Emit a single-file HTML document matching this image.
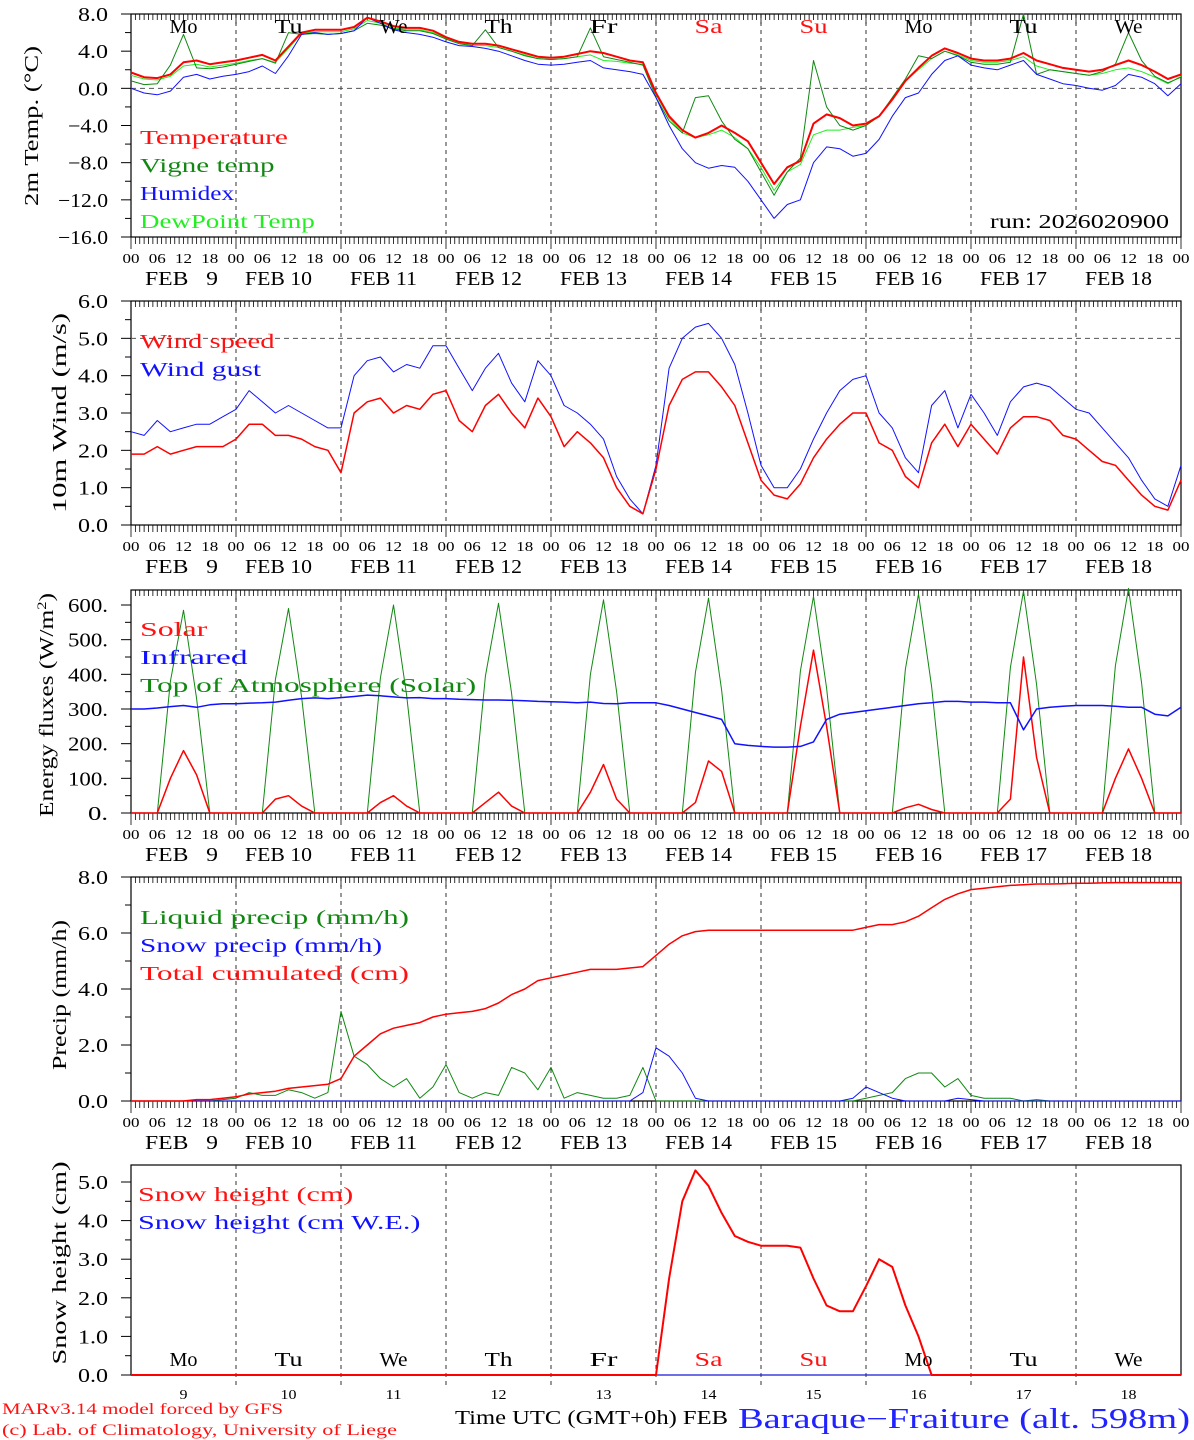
<!DOCTYPE html>
<html><head><meta charset="utf-8"><style>
html,body{margin:0;padding:0;background:#fff}
svg{display:block}
text{font-family:"Liberation Serif",serif;white-space:pre}
</style></head><body>
<svg id="chart" width="1194" height="1440" viewBox="0 0 1194 1440" xmlns="http://www.w3.org/2000/svg"></svg>
<script>
// ---- data (3-hourly, from Feb 9 00 UTC to Feb 19 00 UTC) ----
const dayNames=["Mo","Tu","We","Th","Fr","Sa","Su","Mo","Tu","We"];
const dayNums=["9","10","11","12","13","14","15","16","17","18"];
const hourLabels=["00","06","12","18"];
const tempVals=[1.7,1.2,1.1,1.5,2.8,3.0,2.6,2.8, 3.0,3.3,3.6,3.0,4.5,6.0,6.3,6.3, 6.3,6.6,7.6,7.2,6.7,6.5,6.5,6.2, 5.5,5.0,4.8,4.8,4.6,4.2,3.8,3.4, 3.3,3.4,3.7,4.0,3.8,3.4,3.0,2.8, -0.5,-3.0,-4.5,-5.3,-4.8,-4.0,-4.8,-5.7, -8.0,-10.3,-8.5,-7.8,-3.8,-2.8,-3.2,-4.0, -3.8,-3.0,-1.2,0.8,2.2,3.5,4.3,3.8, 3.2,3.0,3.0,3.2,3.8,3.0,2.6,2.2, 2.0,1.8,2.0,2.5,3.0,2.5,1.8,1.0, 1.5];
const vigneVals=[0.8,0.4,0.5,2.5,5.8,2.2,2.1,2.3, 2.6,2.9,3.2,2.7,6.0,5.8,5.9,5.8, 5.9,6.2,7.0,6.8,6.4,6.2,6.2,5.9, 5.3,4.8,4.6,6.3,4.4,4.0,3.5,3.2, 3.1,3.2,3.4,6.5,3.4,3.1,2.8,2.5, -1.0,-3.5,-4.8,-1.0,-0.8,-3.5,-5.5,-6.5, -9.0,-11.5,-9.0,-7.5,3.0,-2.0,-4.0,-4.5, -4.0,-3.0,-1.0,1.0,3.5,3.2,4.0,3.5, 2.8,2.6,2.6,2.8,8.0,1.5,2.0,1.8, 1.6,1.4,1.8,2.6,6.0,3.0,1.3,0.6, 1.2];
const humidexVals=[0.0,-0.5,-0.7,-0.3,1.2,1.5,1.0,1.3, 1.5,1.8,2.4,1.6,3.5,5.8,6.0,5.8, 5.9,6.2,7.6,7.0,6.3,6.0,5.8,5.5, 5.0,4.6,4.5,4.3,4.0,3.5,3.0,2.6, 2.5,2.6,2.8,3.0,2.2,2.0,1.8,1.5, -1.0,-4.0,-6.5,-8.0,-8.6,-8.3,-8.5,-10.0, -12.0,-14.0,-12.5,-12.0,-8.0,-6.3,-6.5,-7.3, -7.0,-5.5,-3.0,-1.0,-0.5,1.5,3.0,3.5, 2.5,2.2,2.0,2.5,3.0,1.5,1.0,0.5, 0.3,0.0,-0.2,0.3,1.5,1.2,0.5,-0.8, 0.5];
const dewVals=[1.4,1.0,0.9,1.3,2.4,2.6,2.3,2.5, 2.7,3.0,3.2,2.8,4.3,5.9,6.1,6.1, 6.1,6.4,7.3,7.0,6.5,6.3,6.3,6.0, 5.4,4.9,4.6,4.6,4.4,4.0,3.6,3.2, 3.1,3.2,3.4,3.6,3.0,2.9,2.7,2.6, -0.7,-3.2,-4.8,-5.3,-5.0,-4.5,-5.3,-6.5, -8.5,-11.0,-9.0,-8.2,-5.0,-4.5,-4.5,-4.2, -4.0,-3.0,-1.2,0.8,2.0,3.2,4.0,3.6, 3.0,2.8,2.8,3.0,3.4,2.4,2.0,1.8, 1.6,1.4,1.6,2.0,2.2,1.8,1.2,0.5, 1.3];
const windVals=[1.9,1.9,2.1,1.9,2.0,2.1,2.1,2.1, 2.3,2.7,2.7,2.4,2.4,2.3,2.1,2.0, 1.4,3.0,3.3,3.4,3.0,3.2,3.1,3.5, 3.6,2.8,2.5,3.2,3.5,3.0,2.6,3.4, 2.9,2.1,2.5,2.2,1.8,1.0,0.5,0.3, 1.5,3.2,3.9,4.1,4.1,3.7,3.2,2.2, 1.2,0.8,0.7,1.1,1.8,2.3,2.7,3.0, 3.0,2.2,2.0,1.3,1.0,2.2,2.7,2.1, 2.7,2.3,1.9,2.6,2.9,2.9,2.8,2.4, 2.3,2.0,1.7,1.6,1.2,0.8,0.5,0.4, 1.2];
const gustVals=[2.5,2.4,2.8,2.5,2.6,2.7,2.7,2.9, 3.1,3.6,3.3,3.0,3.2,3.0,2.8,2.6, 2.6,4.0,4.4,4.5,4.1,4.3,4.2,4.8, 4.8,4.2,3.6,4.2,4.6,3.8,3.3,4.4, 4.0,3.2,3.0,2.7,2.3,1.3,0.7,0.3, 1.6,4.2,5.0,5.3,5.4,5.0,4.3,3.0, 1.6,1.0,1.0,1.5,2.3,3.0,3.6,3.9, 4.0,3.0,2.6,1.8,1.4,3.2,3.6,2.6, 3.5,3.0,2.4,3.3,3.7,3.8,3.7,3.4, 3.1,3.0,2.6,2.2,1.8,1.2,0.7,0.5, 1.6];
const solarVals=[0,0,0,100,180,110,0,0, 0,0,0,40,50,20,0,0, 0,0,0,30,50,20,0,0, 0,0,0,30,60,20,0,0, 0,0,0,60,140,40,0,0, 0,0,0,30,150,120,0,0, 0,0,0,250,470,250,0,0, 0,0,0,15,25,10,0,0, 0,0,0,40,450,160,0,0, 0,0,0,100,185,100,0,0, 0];
const irVals=[300,300,303,307,310,305,312,315, 315,317,318,320,325,330,332,330, 333,336,340,338,335,332,333,330, 330,328,327,326,326,325,324,322, 321,320,318,320,316,315,318,318, 318,310,300,290,280,270,200,195, 192,190,190,192,205,270,285,290, 295,300,305,310,315,318,322,322, 320,320,318,318,240,300,305,308, 310,310,310,308,305,305,285,280, 305];
const toaVals=[0,0,0,380,585,330,0,0, 0,0,0,385,590,335,0,0, 0,0,0,390,600,340,0,0, 0,0,0,395,605,345,0,0, 0,0,0,400,615,350,0,0, 0,0,0,405,620,355,0,0, 0,0,0,410,625,360,0,0, 0,0,0,415,632,365,0,0, 0,0,0,420,640,370,0,0, 0,0,0,425,648,375,0,0, 0];
const liquidVals=[0,0,0,0,0,0,0,0.05, 0.1,0.3,0.2,0.2,0.4,0.3,0.1,0.3, 3.2,1.6,1.3,0.8,0.5,0.8,0.1,0.5, 1.3,0.3,0.1,0.3,0.2,1.2,1.0,0.4, 1.2,0.1,0.3,0.2,0.1,0.1,0.2,1.2, 0,0,0,0,0,0,0,0, 0,0,0,0,0,0,0,0, 0.1,0.2,0.3,0.8,1.0,1.0,0.5,0.8, 0.2,0.1,0.1,0.1,0,0.05,0,0, 0,0,0,0,0,0,0,0, 0];
const snowfallVals=[0,0,0,0,0,0,0,0, 0,0,0,0,0,0,0,0, 0,0,0,0,0,0,0,0, 0,0,0,0,0,0,0,0, 0,0,0,0,0,0,0,0.3, 1.9,1.6,1.0,0.1,0,0,0,0, 0,0,0,0,0,0,0,0.1, 0.5,0.3,0.1,0,0,0,0,0.1, 0.05,0,0,0,0,0,0,0, 0,0,0,0,0,0,0,0, 0];
const cumulVals=[0,0,0,0,0,0.05,0.05,0.1, 0.15,0.25,0.3,0.35,0.45,0.5,0.55,0.6, 0.8,1.6,2.0,2.4,2.6,2.7,2.8,3.0, 3.1,3.15,3.2,3.3,3.5,3.8,4.0,4.3, 4.4,4.5,4.6,4.7,4.7,4.7,4.75,4.8, 5.2,5.6,5.9,6.05,6.1,6.1,6.1,6.1, 6.1,6.1,6.1,6.1,6.1,6.1,6.1,6.1, 6.2,6.3,6.3,6.4,6.6,6.9,7.2,7.4, 7.55,7.6,7.65,7.7,7.72,7.75,7.75,7.76, 7.78,7.78,7.79,7.8,7.8,7.8,7.8,7.8, 7.8];
const snowHVals=[0,0,0,0,0,0,0,0, 0,0,0,0,0,0,0,0, 0,0,0,0,0,0,0,0, 0,0,0,0,0,0,0,0, 0,0,0,0,0,0,0,0, 0,2.5,4.5,5.3,4.9,4.2,3.6,3.45, 3.35,3.35,3.35,3.3,2.5,1.8,1.65,1.65, 2.3,3.0,2.8,1.8,1.0,0,0,0, 0,0,0,0,0,0,0,0, 0,0,0,0,0,0,0,0, 0];
const snowWEVals=snowHVals.map(()=>0);

// ---- drawing ----
const NS="http://www.w3.org/2000/svg";
const svg=document.getElementById('chart');
function el(tag,attrs,parent){const e=document.createElementNS(NS,tag);for(const k in attrs)e.setAttribute(k,attrs[k]);(parent||svg).appendChild(e);return e;}
function stretch(t,len){t.setAttribute('textLength',len);t.setAttribute('lengthAdjust','spacingAndGlyphs');}
const X0=131,X1=1181,PXH=(X1-X0)/240;
const xOf=t=>X0+t*PXH;

function panel(o){
  const g=el('g',{});
  
  
  const yOf=v=>o.y0-(v-o.vmin)*(o.y0-o.yTop)/(o.vmax-o.vmin);
  o.yOf=yOf;
  el('rect',{x:X0,y:o.top,width:X1-X0,height:o.y0-o.top,fill:'none',stroke:'#000','stroke-width':1.2},g);
  for(let d=1;d<10;d++){const x=xOf(d*24);
    const l=el('line',{x1:x,x2:x,y1:o.top,y2:o.y0+(o.noHours?14:0),stroke:'#333','stroke-width':1,'stroke-dasharray':'4,4'},g);
    
    }
  if(o.hline!==undefined){const y=yOf(o.hline);el('line',{x1:X0,x2:X1,y1:y,y2:y,stroke:'#555','stroke-dasharray':'5,4'},g);}
  for(let v=o.vmin;v<=o.vmax+1e-9;v+=o.minor){const y=yOf(v);el('line',{x1:X0-(Math.abs((v-o.vmin)/o.major-Math.round((v-o.vmin)/o.major))<1e-6?10:6),x2:X0,y1:y,y2:y,stroke:'#000'},g);}
  o.labels.forEach((lab,i)=>{const v=o.vmin+i*o.major;const t=el('text',{x:108,y:yOf(v)+7,'text-anchor':'end','font-size':20},g);t.textContent=lab;
    stretch(t,lab.length*10);
    
    });
  if(!o.noHours){
    for(let h=0;h<=240;h++){const x=xOf(h);const big=h%24===0;
      el('line',{x1:x,x2:x,y1:o.top,y2:o.top+(big?10:6),stroke:'#000','stroke-width':0.8},g);
      el('line',{x1:x,x2:x,y1:o.y0,y2:o.y0+(big?12:7),stroke:'#000','stroke-width':0.8},g);}
    for(let d=0;d<=10;d++)for(let k=0;k<4;k++){if(d===10&&k>0)break;
      const t=el('text',{x:xOf(d*24+k*6),y:o.y0+26,'text-anchor':'middle','font-size':14},g);t.textContent=hourLabels[k];stretch(t,17);}
    for(let d=0;d<10;d++){
      const one=dayNums[d].length<2;
      const t=el('text',{x:xOf(d*24+12)-(one?2:10),y:o.y0+48,'text-anchor':'middle','font-size':20},g);
      t.textContent='FEB '+(one?'  ':'')+dayNums[d];
      stretch(t,one?73:67);
      
      }
  }
  const yt=el('text',{x:0,y:0,transform:`translate(${o.titleX},${o.titleY}) rotate(-90)`,'text-anchor':'middle','font-size':20},g);
  yt.innerHTML=o.title;
  stretch(yt,o.titleLen);
  
  
  o.series.forEach(s=>{
    const pts=s.vals.map((v,i)=>xOf(i*3).toFixed(1)+','+yOf(v).toFixed(1)).join(' ');
    const p=el('polyline',{points:pts,fill:'none',stroke:s.color,'stroke-width':s.w||1,'stroke-linejoin':'round'},g);
    
    
  });
  o.legend.forEach((lg,i)=>{const t=el('text',{x:o.legX||140,y:o.legY+i*28,'font-size':20,fill:lg[1]},g);t.textContent=lg[0];
    stretch(t,lg[0].length*13.45);
    
    });
  return g;
}

const p1=panel({name:'temperature-panel',top:14,y0:237,yTop:14,vmin:-16,vmax:8,major:4,minor:2,
  labels:["−16.0","−12.0","−8.0","−4.0","0.0","4.0","8.0"],hline:0,title:'2m Temp. (°C)',titleLen:160,titleX:38,titleY:126,
  series:[{name:'dewpoint-line',vals:dewVals,color:'#22ee22'},{name:'vigne-temp-line',vals:vigneVals,color:'#118811'},
    {name:'humidex-line',vals:humidexVals,color:'#1111ff'},{name:'temperature-line',vals:tempVals,color:'#ff0000',w:2}],
  legend:[["Temperature","#ff1111"],["Vigne temp","#118811"],["Humidex","#1111ff"],["DewPoint Temp","#22ee22"]],legY:144});
dayNames.forEach((n,i)=>{const t=el('text',{x:xOf(i*24+12),y:33,'text-anchor':'middle','font-size':20,fill:(i===5||i===6)?'#ff1111':'#000'},p1);t.textContent=n;
  stretch(t,28);
  
  });
{const t=el('text',{x:1169,y:228,'text-anchor':'end','font-size':20},p1);t.textContent='run: 2026020900';stretch(t,179);
  
  }

panel({name:'wind-panel',top:301,y0:525,yTop:301,vmin:0,vmax:6,major:1,minor:0.5,
  labels:["0.0","1.0","2.0","3.0","4.0","5.0","6.0"],hline:5,title:'10m Wind (m/s)',titleLen:200,titleX:66,titleY:413,
  series:[{name:'wind-gust-line',vals:gustVals,color:'#1111ff'},{name:'wind-speed-line',vals:windVals,color:'#ff0000',w:1.5}],
  legend:[["Wind speed","#ff1111"],["Wind gust","#1111ff"]],legY:348});

panel({name:'energy-panel',top:590,y0:813,yTop:605,vmin:0,vmax:600,major:100,minor:50,
  labels:["0.","100.","200.","300.","400.","500.","600."],title:'Energy fluxes (W/m<tspan baseline-shift="super" font-size="13">2</tspan>)',titleLen:224,titleX:53,titleY:705,
  series:[{name:'toa-solar-line',vals:toaVals,color:'#118811'},{name:'solar-line',vals:solarVals,color:'#ff0000',w:1.5},{name:'infrared-line',vals:irVals,color:'#1111ff',w:1.5}],
  legend:[["Solar","#ff1111"],["Infrared","#1111ff"],["Top of Atmosphere (Solar)","#118811"]],legY:636});

panel({name:'precip-panel',top:877,y0:1101,yTop:877,vmin:0,vmax:8,major:2,minor:1,
  labels:["0.0","2.0","4.0","6.0","8.0"],title:'Precip (mm/h)',titleLen:150,titleX:66,titleY:995,
  series:[{name:'liquid-precip-line',vals:liquidVals,color:'#118811'},{name:'snow-precip-line',vals:snowfallVals,color:'#1111ff'},{name:'total-cumulated-line',vals:cumulVals,color:'#ff0000',w:1.5}],
  legend:[["Liquid precip (mm/h)","#118811"],["Snow precip (mm/h)","#1111ff"],["Total cumulated (cm)","#ff1111"]],legY:924});

const p5=panel({name:'snow-panel',top:1165,y0:1375,yTop:1182,vmin:0,vmax:5,major:1,minor:0.5,noHours:true,
  labels:["0.0","1.0","2.0","3.0","4.0","5.0"],title:'Snow height (cm)',titleLen:203,titleX:66,titleY:1263,
  series:[{name:'snow-we-line',vals:snowWEVals,color:'#1111ff'},{name:'snow-height-line',vals:snowHVals,color:'#ff0000',w:2}],
  legend:[["Snow height (cm)","#ff1111"],["Snow height (cm W.E.)","#1111ff"]],legY:1201,legX:138});
dayNames.forEach((n,i)=>{const t=el('text',{x:xOf(i*24+12),y:1366,'text-anchor':'middle','font-size':20,fill:(i===5||i===6)?'#ff1111':'#000'},p5);t.textContent=n;
  stretch(t,28);
  
  });
dayNums.forEach((n,i)=>{const t=el('text',{x:xOf(i*24+12),y:1399,'text-anchor':'middle','font-size':14},p5);t.textContent=n;
  stretch(t,n.length*8);
  
  });

function ft(txt,attrs,name,len){const t=el('text',attrs);t.textContent=txt;stretch(t,len);
  
  }
ft('MARv3.14 model forced by GFS',{x:2,y:1414,'font-size':16,fill:'#ff1111'},'model-credit',281);
ft('(c) Lab. of Climatology, University of Liege',{x:2,y:1435,'font-size':16,fill:'#ff1111'},'lab-credit',395);
ft('Time UTC (GMT+0h) FEB',{x:455,y:1424,'font-size':20},'x-axis-title',273);
ft('Baraque−Fraiture (alt. 598m)',{x:738,y:1428,'font-size':28,fill:'#2222ff'},'station-title',452);
</script>
</body></html>
